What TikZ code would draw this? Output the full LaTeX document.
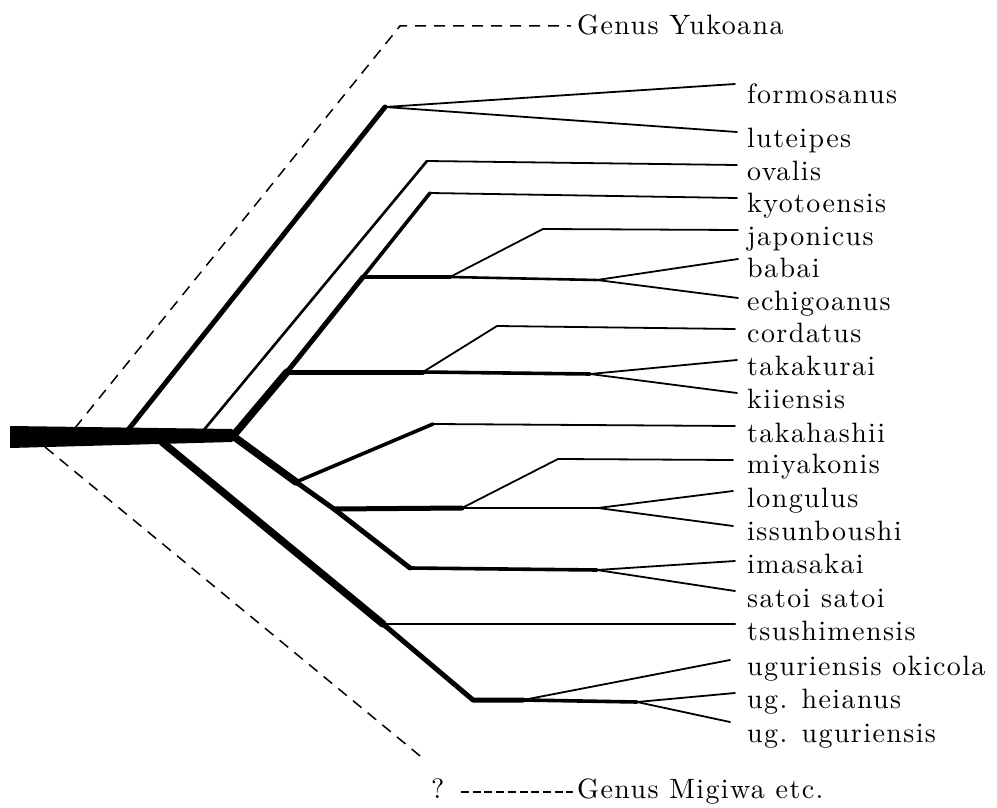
\documentclass[tikz,border=0pt]{standalone}
\usepackage{fontspec}
\setmainfont{lmroman10-regular.otf}[LetterSpace=5]
\newcommand\taxonfont{\fontsize{28}{30}\selectfont}
\begin{document}
\begin{tikzpicture}[x=1pt,y=-1pt,
  branch/.style={line join=round, line cap=round},
  hair/.style={branch, line width=1.8pt},
  thin/.style={branch, line width=2.6pt},
  mid/.style={branch, line width=3.6pt},
  thick/.style={branch, line width=5pt},
  heavy/.style={branch, line width=7.5pt},
  guess/.style={line width=1.5pt, dash pattern=on 11pt off 8pt},
  guessshort/.style={line width=2.6pt, dash pattern=on 8pt off 3.7pt},
  taxon/.style={anchor=base west, inner sep=0pt, font=\taxonfont},
]
\useasboundingbox (0,0) rectangle (997,808);

% ---- taxon labels (base line positions) ----
\node[taxon] (formosanus) at (747,103) {formosanus};
\node[taxon] (luteipes)   at (747,147) {luteipes};
\node[taxon] (ovalis)     at (747,180) {ovalis};
\node[taxon] (kyotoensis) at (747,212) {kyotoensis};
\node[taxon] (japonicus)  at (747,245) {japonicus};
\node[taxon] (babai)      at (747,277) {babai};
\node[taxon] (echigoanus) at (747,310) {echigoanus};
\node[taxon] (cordatus)   at (747,342) {cordatus};
\node[taxon] (takakurai)  at (747,375) {takakurai};
\node[taxon] (kiiensis)   at (747,408) {kiiensis};
\node[taxon] (takahashii) at (747,442) {takahashii};
\node[taxon] (miyakonis)  at (747,473) {miyakonis};
\node[taxon] (longulus)   at (747,507) {longulus};
\node[taxon] (issunboushi) at (747,540) {issunboushi};
\node[taxon] (imasakai)   at (747,573) {imasakai};
\node[taxon] (satoi)      at (747,607) {satoi satoi};
\node[taxon] (tsushimensis) at (747,640) {tsushimensis};
\node[taxon] (okicola)    at (747,675) {uguriensis okicola};
\node[taxon] (heianus)    at (747,708) {ug. heianus};
\node[taxon] (uguriensis) at (747,742) {ug. uguriensis};
\node[taxon] (yukoana)    at (577,35)  {Genus Yukoana};
\node[taxon] (migiwa)     at (577,798) {Genus Migiwa etc.};
\node[taxon] (query)      at (431,798) {?};

% ---- branch tips ----
\coordinate (t-formosanus) at (735,84);
\coordinate (t-luteipes)   at (737,132);
\coordinate (t-ovalis)     at (737,165);
\coordinate (t-kyotoensis) at (737,198);
\coordinate (t-japonicus)  at (738,230);
\coordinate (t-babai)      at (738,259);
\coordinate (t-echigoanus) at (738,298);
\coordinate (t-cordatus)   at (735,329);
\coordinate (t-takakurai)  at (737,360);
\coordinate (t-kiiensis)   at (737,393);
\coordinate (t-takahashii) at (735,426);
\coordinate (t-miyakonis)  at (733,460);
\coordinate (t-longulus)   at (733,491);
\coordinate (t-issunboushi) at (733,526);
\coordinate (t-imasakai)   at (735,561);
\coordinate (t-satoi)      at (735,591);
\coordinate (t-tsushimensis) at (735,624);
\coordinate (t-okicola)    at (730,660);
\coordinate (t-heianus)    at (735,693);
\coordinate (t-uguriensis) at (730,722);

% ---- internal nodes ----
\coordinate (yk-base) at (75,428);
\coordinate (yk-bend) at (400,26);
\coordinate (yk-end)  at (571,26);
\coordinate (mg-base) at (45,447);
\coordinate (mg-end)  at (425,760);
\coordinate (mg-from) at (461,792);
\coordinate (mg-to)   at (573,792);

\coordinate (A)  at (128,430);
\coordinate (A1) at (385,107);
\coordinate (B)  at (203,431);
\coordinate (B1) at (427,161);
\coordinate (C)  at (233,436);
\coordinate (U1) at (287,372);
\coordinate (U2) at (363,277);
\coordinate (U3) at (430,193);
\coordinate (J0) at (450,277);
\coordinate (J1) at (543,229);
\coordinate (J2) at (597,280);
\coordinate (K0) at (423,372);
\coordinate (K1) at (497,326);
\coordinate (K2) at (590,374);
\coordinate (L1) at (296,482);
\coordinate (L2) at (334,509);
\coordinate (L3) at (410,568);
\coordinate (T1) at (433,424);
\coordinate (M0) at (462,508);
\coordinate (M1) at (558,459);
\coordinate (M2) at (598,508);
\coordinate (I2) at (597,570);
\coordinate (D)  at (162,442);
\coordinate (D1) at (383,624);
\coordinate (D2) at (473,700);
\coordinate (G0) at (523,700);
\coordinate (G1) at (637,702);

% ---- stem ----
\fill (10,426) -- (232,429) -- (238,435) -- (232,442) -- (10,448) -- cycle;

% ---- uncertain relationships ----
\draw[guess] (yk-base) -- (yk-bend) -- (yk-end);
\draw[guess] (mg-base) -- (mg-end);
\draw[guessshort] (mg-from) -- (mg-to);

% ---- formosanus / luteipes ----
\draw[thick] (A) -- (A1);
\draw[hair] (A1) -- (t-formosanus);
\draw[hair] (A1) -- (t-luteipes);

% ---- ovalis ----
\draw[thin] (B) -- (B1);
\draw[hair] (B1) -- (t-ovalis);

% ---- upper clade ----
\draw[heavy] (C) -- (U1);
\draw[thick] (U1) -- (U2);
\draw[mid] (U2) -- (U3);
\draw[hair] (U3) -- (t-kyotoensis);
\draw[mid] (U2) -- (J0);
\draw[thin] (J0) -- (J2);
\draw[hair] (J0) -- (J1) -- (t-japonicus);
\draw[hair] (J2) -- (t-babai);
\draw[hair] (J2) -- (t-echigoanus);
\draw[thick] (U1) -- (K0);
\draw[mid] (K0) -- (K2);
\draw[hair] (K0) -- (K1) -- (t-cordatus);
\draw[hair] (K2) -- (t-takakurai);
\draw[hair] (K2) -- (t-kiiensis);

% ---- lower clade ----
\draw[heavy] (C) -- (L1);
\draw[thick] (L1) -- (L2) -- (L3);
\draw[mid] (L1) -- (T1);
\draw[hair] (T1) -- (t-takahashii);
\draw[thick] (L2) -- (M0);
\draw[thin] (M0) -- (M2);
\draw[hair] (M0) -- (M1) -- (t-miyakonis);
\draw[hair] (M2) -- (t-longulus);
\draw[hair] (M2) -- (t-issunboushi);
\draw[mid] (L3) -- (I2);
\draw[hair] (I2) -- (t-imasakai);
\draw[hair] (I2) -- (t-satoi);

% ---- tsushimensis / uguriensis ----
\draw[heavy] (D) -- (D1);
\draw[thick] (D1) -- (D2) -- (G0);
\draw[thin] (D1) -- (t-tsushimensis);
\draw[mid] (G0) -- (G1);
\draw[hair] (G0) -- (t-okicola);
\draw[hair] (G1) -- (t-heianus);
\draw[hair] (G1) -- (t-uguriensis);
\end{tikzpicture}
\end{document}
